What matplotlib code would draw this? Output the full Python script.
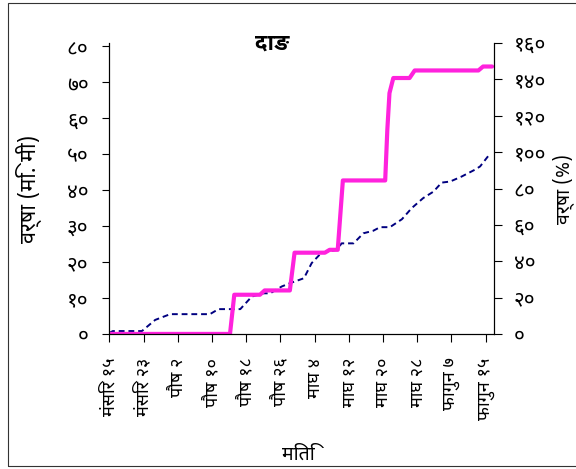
import os
import matplotlib
matplotlib.use("Agg")
import matplotlib.pyplot as plt
import matplotlib.patches as patches
import matplotlib.font_manager as fm

plt.rcParams['font.family'] = ['Noto Sans Devanagari', 'Noto Sans Devanagari UI', 'DejaVu Sans']

bold_path = '/usr/share/fonts/truetype/google-fonts/NotoSansDevanagariUI-Bold.ttf'
if os.path.exists(bold_path):
    title_font = fm.FontProperties(fname=bold_path, size=16)
else:
    title_font = fm.FontProperties(size=16, weight='bold')

# days counted from मंसिर १५
tick_days = [0, 8, 16, 24, 32, 40, 48, 56, 64, 72, 80, 88]
tick_labels = ['मंसिर १५', 'मंसिर २३', 'पौष २', 'पौष १०', 'पौष १८', 'पौष २६',
               'माघ ४', 'माघ १२', 'माघ २०', 'माघ २८', 'फागुन ७', 'फागुन १५']

# actual cumulative rain (mm)
actual_days = [0, 28.2, 29.2, 35.2, 36.3, 42.2, 43.3, 50.4, 51.5, 53.4, 54.6,
               64.5, 65.0, 65.5, 66.4, 70.2, 71.4, 86.3, 87.4, 89.5]
actual_mm = [0, 0, 10.9, 10.9, 12.1, 12.1, 22.6, 22.6, 23.4, 23.4, 42.7,
             42.7, 56.8, 67.0, 71.2, 71.2, 73.3, 73.3, 74.4, 74.4]

# normal cumulative rain (mm)
normal_days = [0, 0.8, 7.6, 10.7, 14.2, 23.5, 25.5, 30.6, 33.3, 36.0, 37.6,
               40.3, 42.2, 45.5, 47.3, 49.6, 53.2, 54.3, 57.1, 59.4, 61.7,
               63.3, 65.6, 68.4, 70.7, 73.4, 75.8, 77.7, 79.7, 82.4, 85.5,
               86.7, 89.0]
normal_mm = [0.3, 0.8, 0.8, 3.9, 5.5, 5.5, 6.9, 6.9, 10.4, 11.3, 11.3,
             13.2, 14.1, 15.5, 19.7, 22.6, 23.4, 25.2, 25.2, 28.0, 28.7,
             29.7, 29.7, 31.9, 35.0, 37.8, 39.6, 42.1, 42.4, 43.8, 45.7,
             46.6, 50.1]

left_ticks = [0, 10, 20, 30, 40, 50, 60, 70, 80]
right_ticks = [0, 20, 40, 60, 80, 100, 120, 140, 160]


def dev(n):
    digits = '०१२३४५६७८९'
    return ''.join(digits[int(c)] for c in str(n))


fig = plt.figure(figsize=(5.76, 4.69), dpi=100)
ax = fig.add_axes([0.190, 0.288, 0.668, 0.620])

ax.plot(normal_days, normal_mm, color='#000080', lw=1.4, ls=(0, (3, 2)))
ax.plot(actual_days, actual_mm, color='#ff22dd', lw=3.0, solid_capstyle='round')

ax.set_xlim(0, 90)
ax.set_ylim(0, 80.9)
ax.set_xticks(tick_days)
ax.set_xticklabels(tick_labels, rotation=90, fontsize=13)
ax.set_yticks(left_ticks)
ax.set_yticklabels([dev(v) for v in left_ticks], fontsize=15)
ax.tick_params(axis='y', length=5, pad=10)
ax.tick_params(axis='x', length=6, pad=11)
ax.spines['top'].set_visible(False)
ax.set_ylabel('वर्षा (मि. मी)', fontsize=15.5)
ax.yaxis.set_label_coords(-0.175, 0.5)
ax.set_xlabel('मिति', fontsize=14)
ax.xaxis.set_label_coords(0.49, -0.38)

ax2 = ax.twinx()
ax2.set_ylim(0, 160)
ax2.set_yticks(right_ticks)
ax2.set_yticklabels([dev(v) for v in right_ticks], fontsize=15)
ax2.tick_params(axis='y', length=6, pad=8)
ax2.spines['top'].set_visible(False)
ax2.set_ylabel('वर्षा (%)', fontsize=14)
ax2.yaxis.set_label_coords(1.151, 0.5)

fig.text(272 / 576, 1 - 43 / 469, 'दाङ', fontproperties=title_font,
         ha='center', va='center')

fig.patches.append(patches.Rectangle((8 / 576, 3 / 469), 1.0, 463 / 469,
                                     transform=fig.transFigure, fill=False,
                                     edgecolor='#333333', lw=0.8))

fig.savefig('out.png')
